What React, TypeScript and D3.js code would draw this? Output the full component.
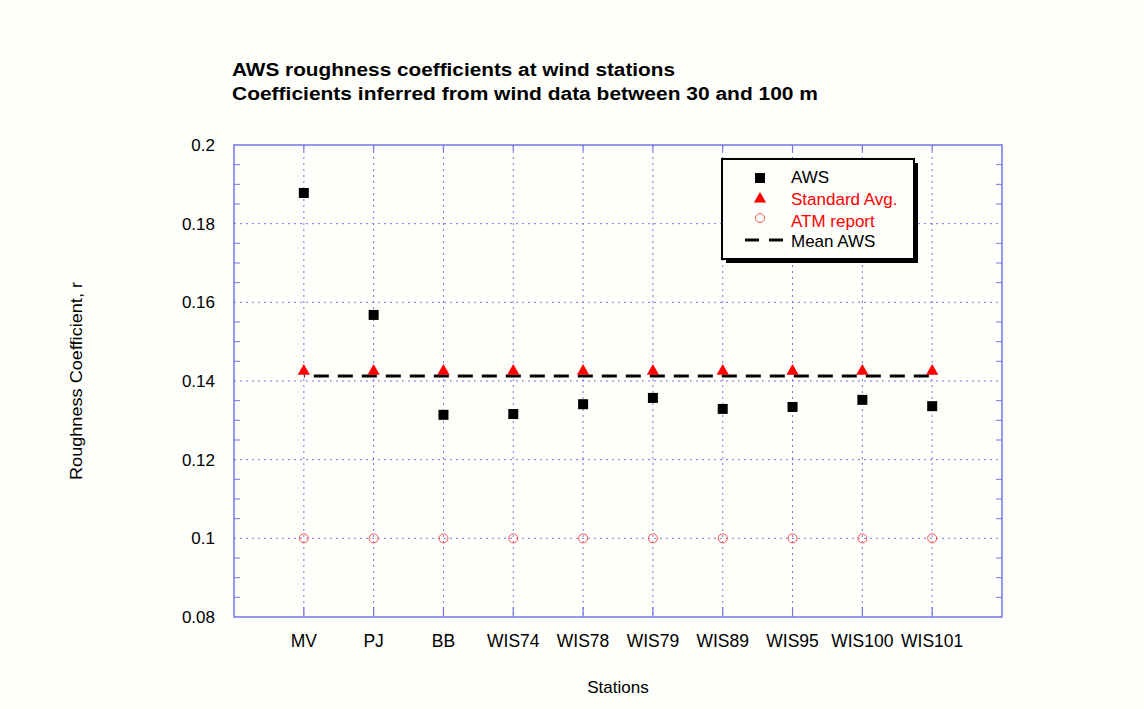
import React from "react";
import * as d3 from "d3";

const stations = ["MV", "PJ", "BB", "WIS74", "WIS78", "WIS79", "WIS89", "WIS95", "WIS100", "WIS101"];
const awsValues = [0.1878, 0.1568, 0.1314, 0.1316, 0.1341, 0.1357, 0.1329, 0.1334, 0.1352, 0.1336];
const standardAvg = [0.1425, 0.1425, 0.1425, 0.1425, 0.1425, 0.1425, 0.1425, 0.1425, 0.1425, 0.1425];
const atmReport = [0.1, 0.1, 0.1, 0.1, 0.1, 0.1, 0.1, 0.1, 0.1, 0.1];
const meanAWS = 0.1413;
const yTicks = [0.08, 0.1, 0.12, 0.14, 0.16, 0.18, 0.2];
const yTickLabels = ["0.08", "0.1", "0.12", "0.14", "0.16", "0.18", "0.2"];

const W = 1144, H = 709;
const L = 234, R = 1002, T = 145, B = 617;
const axisColor = "#7575e6";
const font = "Arial, 'Liberation Sans', sans-serif";
const bg = "#fefefb";

export default function App() {
  const x = d3.scaleLinear().domain([0, stations.length + 1]).range([L, R]);
  const y = d3.scaleLinear().domain([0.08, 0.2]).range([B, T]);
  const minor = d3.range(0.08, 0.2001, 0.005);
  const tri = d3.symbol().type(d3.symbolTriangle).size(65)();
  const meanLine = d3.line<number[]>().x((d) => d[0]).y((d) => d[1]);
  return (
    <svg width={W} height={H} style={{ position: "absolute", left: 0, top: 0, background: bg }} fontFamily={font}>
      <rect x={0} y={0} width={W} height={H} fill={bg} />
      <text x={232} y={76} fontSize={18} fontWeight="bold" textLength={443} lengthAdjust="spacingAndGlyphs">AWS roughness coefficients at wind stations</text>
      <text x={232} y={100} fontSize={18} fontWeight="bold" textLength={586} lengthAdjust="spacingAndGlyphs">Coefficients inferred from wind data between 30 and 100 m</text>
      {/* grid */}
      {yTicks.slice(1, -1).map((t) => (
        <line key={"hg" + t} x1={L} x2={R} y1={y(t)} y2={y(t)} stroke={axisColor} strokeDasharray="2,4" strokeWidth={1} />
      ))}
      {stations.map((s, i) => (
        <line key={"vg" + s} x1={x(i + 1)} x2={x(i + 1)} y1={T} y2={B} stroke={axisColor} strokeDasharray="2,4" strokeWidth={1} />
      ))}
      {/* minor ticks */}
      {minor.map((t, i) => (
        <g key={"mt" + i}>
          <line x1={L} x2={L + (i % 4 === 0 ? 0 : 6)} y1={y(t)} y2={y(t)} stroke={axisColor} />
          <line x1={R} x2={R - (i % 4 === 0 ? 0 : 6)} y1={y(t)} y2={y(t)} stroke={axisColor} />
        </g>
      ))}
      {stations.map((s, i) => (
        <g key={"xt" + s}>
          <line x1={x(i + 1)} x2={x(i + 1)} y1={B} y2={B - 10} stroke={axisColor} strokeWidth={1.2} />
          <line x1={x(i + 1)} x2={x(i + 1)} y1={T} y2={T + 6} stroke={axisColor} strokeWidth={1.2} />
        </g>
      ))}
      <rect x={L} y={T} width={R - L} height={B - T} fill="none" stroke={axisColor} strokeWidth={1.5} />
      {/* y labels */}
      {yTicks.map((t, i) => (
        <text key={"yl" + t} x={215} y={y(t) + 6} fontSize={17} textAnchor="end">{yTickLabels[i]}</text>
      ))}
      {stations.map((s, i) => (
        <text key={"xl" + s} x={x(i + 1)} y={647} fontSize={17.5} textAnchor="middle">{s}</text>
      ))}
      <text x={618} y={693} fontSize={17} textAnchor="middle">Stations</text>
      <text transform={`translate(82,381) rotate(-90)`} fontSize={17} textAnchor="middle" textLength={198} lengthAdjust="spacingAndGlyphs">Roughness Coefficient, r</text>
      {/* ATM */}
      {atmReport.map((v, i) => (
        <circle key={"atm" + i} cx={x(i + 1)} cy={y(v)} r={4.5} fill="none" stroke="#ff5050" strokeWidth={1} />
      ))}
      {/* mean line */}
      <path d={meanLine([[x(1), y(meanAWS)], [x(stations.length), y(meanAWS)]]) || ""} stroke="#000" strokeWidth={3} strokeDasharray="15,9" strokeDashoffset={-10} fill="none" />
      {/* standard */}
      {standardAvg.map((v, i) => (
        <path key={"sa" + i} d={tri} transform={`translate(${x(i + 1)},${y(v)})`} fill="#ff0000" />
      ))}
      {/* AWS */}
      {awsValues.map((v, i) => (
        <rect key={"aws" + i} x={x(i + 1) - 5} y={y(v) - 5} width={10} height={10} fill="#000" />
      ))}
      {/* legend */}
      <rect x={726} y={163} width={192} height={100} fill="#000" />
      <rect x={722} y={159} width={192} height={100} fill={bg} stroke="#000" strokeWidth={2} />
      <rect x={755} y={173} width={10} height={10} fill="#000" />
      <text x={791} y={183} fontSize={17}>AWS</text>
      <path d={tri} transform="translate(760,199)" fill="#ff0000" />
      <text x={791} y={205} fontSize={17} fill="#ff0000">Standard Avg.</text>
      <circle cx={760} cy={218} r={4.5} fill="none" stroke="#ff5050" />
      <text x={791} y={227} fontSize={17} fill="#ff0000">ATM report</text>
      <line x1={745} x2={783} y1={240} y2={240} stroke="#000" strokeWidth={3} strokeDasharray="14,10" />
      <text x={791} y={247} fontSize={17}>Mean AWS</text>
    </svg>
  );
}
